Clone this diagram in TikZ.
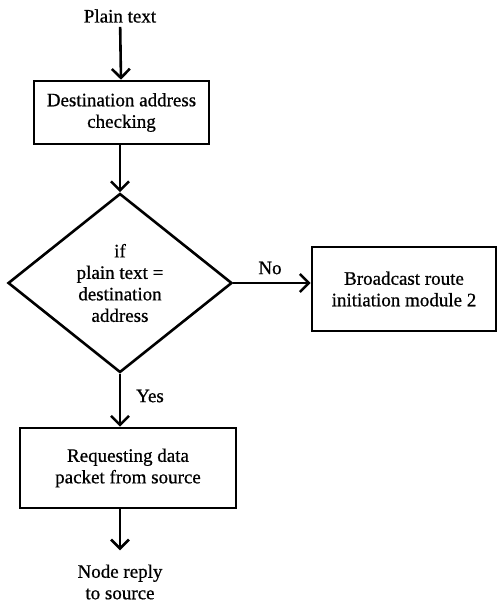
\documentclass[tikz,border=0pt]{standalone}
\usepackage{fontspec}
\newfontfamily\chartfont{Liberation Serif}[BoldFont={Liberation Serif}, BoldFeatures={FakeBold=0.7}]
\usetikzlibrary{shapes.geometric,arrows.meta}
\begin{document}
\begin{tikzpicture}[x=1pt,y=-1pt,
  every node/.style={font=\chartfont\bfseries\fontsize{19}{21.5}\selectfont, align=center, inner sep=0pt},
  box/.style={draw, line width=2.6pt, rectangle},
  decision/.style={draw, line width=2.6pt, diamond, shape aspect=1.25},
  flow/.style={line width=2.6pt, -{Straight Barb[length=9pt,width=18pt,line width=2.6pt]}}]
\useasboundingbox (0,0) rectangle (497,602);

% nodes
\node (src) at (120,16) {Plain text};
\node[box, minimum width=175pt, minimum height=63pt] (check) at (121.5,112.5) {Destination address\\checking};
\node[decision, minimum width=224pt, minimum height=179pt] (dec) at (120,283) {if\\plain text =\\destination\\address};
\node[box, minimum width=184pt, minimum height=84pt] (bcast) at (404,289) {Broadcast route\\initiation module 2};
\node[box, minimum width=216pt, minimum height=80pt] (req) at (128,468) {Requesting data\\packet from source};
\node (reply) at (120,582) {Node reply\\to source};

% branch labels
\node (no) at (270,268) {No};
\node (yes) at (150,396) {Yes};

% connectors
\draw[flow, shorten <=4pt] (src) -- (check);
\draw[flow] (check.south -| dec.north) -- (dec.north);
\draw[flow] (dec.east) -- (dec.east -| bcast.west);
\draw[flow] (dec.south) -- (dec.south |- req.north);
\draw[flow, shorten >=14pt] (req.south -| reply.north) -- (reply.north);
\end{tikzpicture}
\end{document}
